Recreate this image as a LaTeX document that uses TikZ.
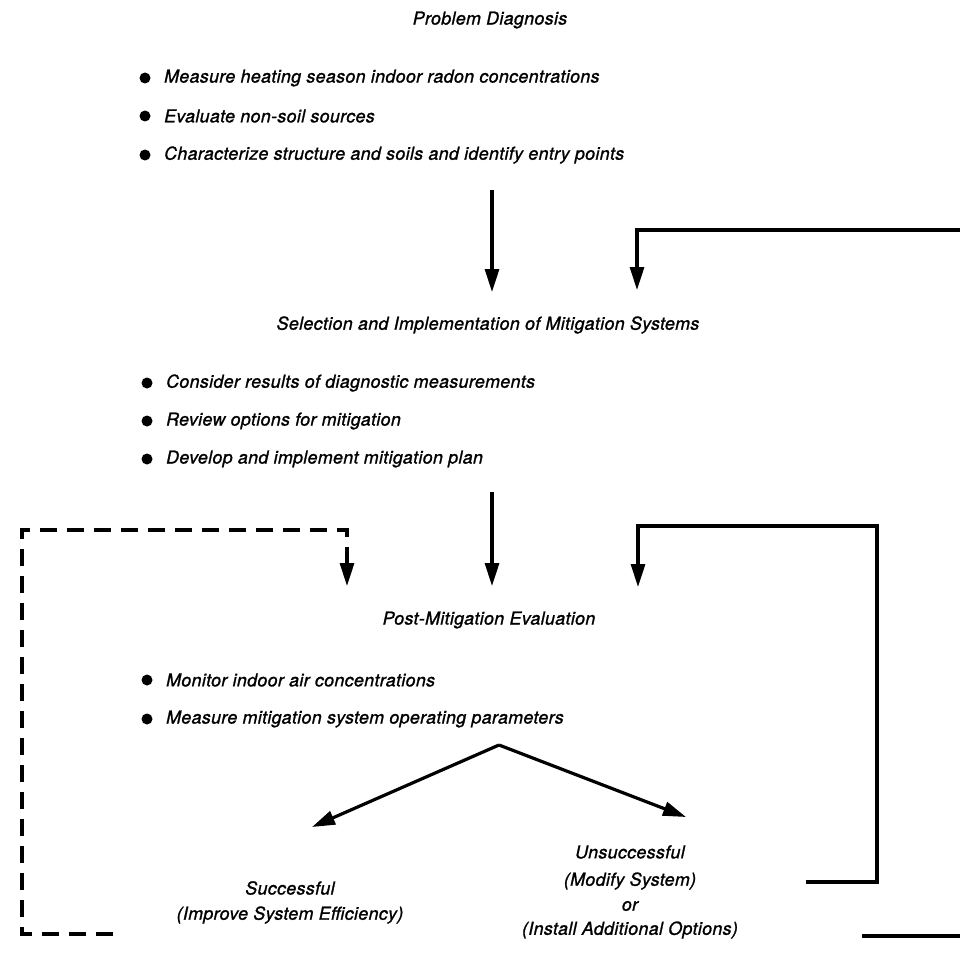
\documentclass[tikz,border=0pt]{standalone}
\usepackage{fontspec}
\setmainfont{TeX Gyre Heros}[LetterSpace=2, ItalicFeatures={FakeBold=1.2}]
\usetikzlibrary{arrows.meta}
\begin{document}
\begin{tikzpicture}[x=1pt,y=-1pt,
  txt/.style={font=\fontsize{17.8}{22}\selectfont\itshape, inner sep=0pt},
  item/.style={txt, anchor=west},
  head/.style={txt, anchor=center},
  dot/.style={circle, fill=black, inner sep=0pt, minimum size=11pt},
  flow/.style={line width=3.2pt, -{Triangle[length=23pt,width=14pt]}},
  link/.style={line width=3.2pt},
  dlink/.style={line width=3.2pt, dash pattern=on 17pt off 10pt}]
\useasboundingbox (0,0) rectangle (959,971);

% Problem Diagnosis
\node[head] (pd) at (490,20) {Problem Diagnosis};
\node[dot] (b1) at (145,78) {};
\node[item] (t1) at (164,78) {Measure heating season indoor radon concentrations};
\node[dot] (b2) at (145,116) {};
\node[item] (t2) at (164,116) {Evaluate non-soil sources};
\node[dot] (b3) at (145,155) {};
\node[item] (t3) at (164,155) {Characterize structure and soils and identify entry points};

% arrows into selection
\coordinate (a1s) at (492,190);
\coordinate (a1e) at (492,292);
\draw[flow] (a1s) -- (a1e);
\coordinate (r1a) at (960,230);
\coordinate (r1b) at (637,230);
\coordinate (r1e) at (637,290);
\draw[flow] (r1a) -- (r1b) -- (r1e);

% Selection
\node[head] (sel) at (488,325) {Selection and Implementation of Mitigation Systems};
\node[dot] (b4) at (147,383) {};
\node[item] (t4) at (166,383) {Consider results of diagnostic measurements};
\node[dot] (b5) at (147,421) {};
\node[item] (t5) at (166,421) {Review options for mitigation};
\node[dot] (b6) at (147,459) {};
\node[item] (t6) at (166,459) {Develop and implement mitigation plan};

% arrows into post-mitigation
\coordinate (a2s) at (492,492);
\coordinate (a2e) at (492,586);
\draw[flow] (a2s) -- (a2e);

% dashed loop
\coordinate (d1) at (113,934);
\coordinate (d2) at (22,934);
\coordinate (d3) at (22,530);
\coordinate (d4) at (347,530);
\coordinate (d5) at (347,560);
\coordinate (d6) at (347,586);
\draw[dlink] (d1) -- (d2) -- (d3) -- (d4) -- (d5);
\draw[flow] (d5) -- (d6);

% solid right loop
\coordinate (s1) at (806,882);
\coordinate (s2) at (877,882);
\coordinate (s3) at (877,526);
\coordinate (s4) at (638,526);
\coordinate (s5) at (638,587);
\draw[flow] (s1) -- (s2) -- (s3) -- (s4) -- (s5);

% Post-mitigation
\node[head] (pm) at (489,620) {Post-Mitigation Evaluation};
\node[dot] (b7) at (147,680) {};
\node[item] (t7) at (166,680) {Monitor indoor air concentrations};
\node[dot] (b8) at (147,719) {};
\node[item] (t8) at (166,719) {Measure mitigation system operating parameters};

% branch
\coordinate (apex) at (499,745);
\coordinate (lt) at (312,827);
\coordinate (rt) at (686,817);
\draw[flow] (apex) -- (lt);
\draw[flow] (apex) -- (rt);

% outcomes
\node[head] (s1t) at (290,888) {Successful};
\node[head] (s2t) at (290,915) {(Improve System Efficiency)};
\node[head] (u1) at (630,852) {Unsuccessful};
\node[head] (u2) at (630,881) {(Modify System)};
\node[head] (u3) at (630,906) {or};
\node[head] (u4) at (630,930) {(Install Additional Options)};

% bottom right line
\coordinate (br1) at (862,936);
\coordinate (br2) at (960,936);
\draw[link] (br1) -- (br2);
\end{tikzpicture}
\end{document}
